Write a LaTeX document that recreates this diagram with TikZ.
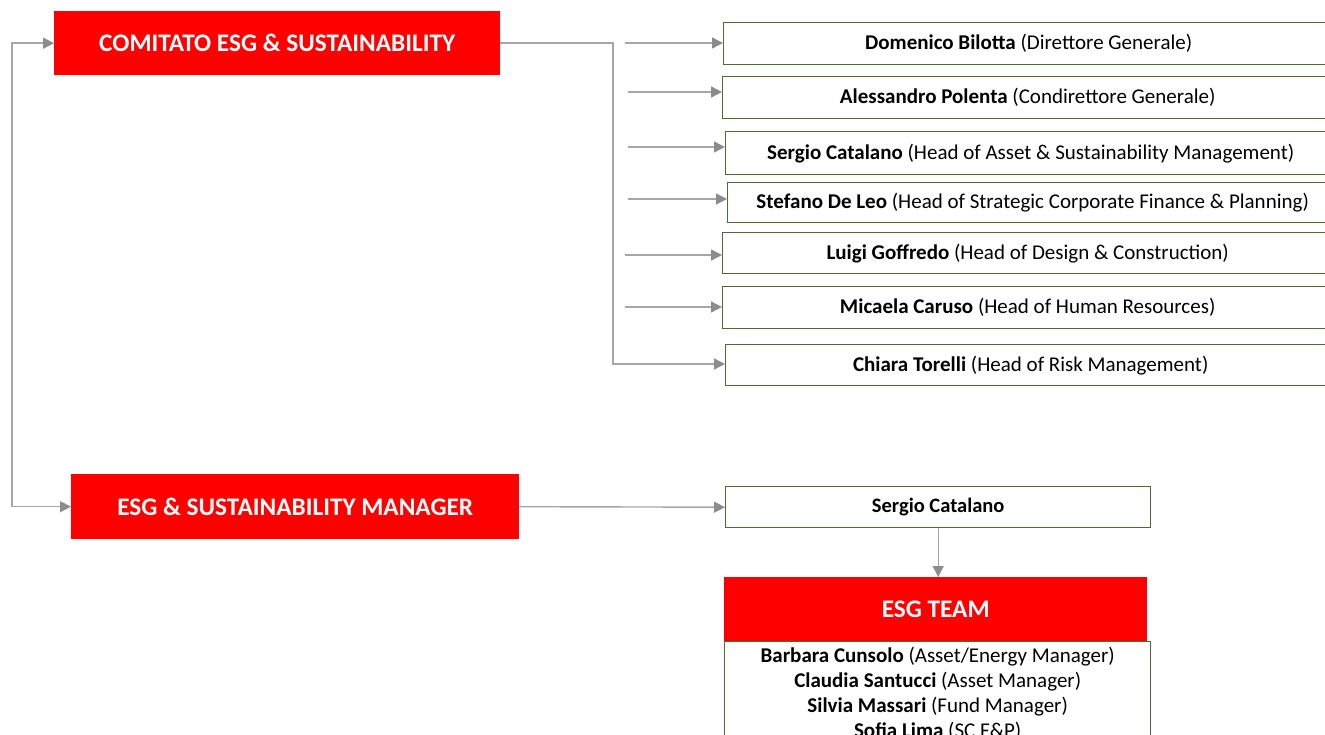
\documentclass[tikz,border=0pt]{standalone}
\usepackage{fontspec}
\setmainfont{Carlito}
\usetikzlibrary{arrows.meta}
\definecolor{esgred}{HTML}{FF0000}
\definecolor{boxgreen}{HTML}{4A6E2E}
\definecolor{linegray}{HTML}{A6A6A6}
\definecolor{tipgray}{HTML}{8C8C8C}
\begin{document}
\begin{tikzpicture}[x=1pt,y=-1pt,
  redbox/.style={fill=esgred, draw=none, text=white, font=\fontsize{25.3}{29}\selectfont\bfseries, anchor=north west, inner sep=0pt},
  namebox/.style={draw=boxgreen, line width=1.4pt, fill=white, anchor=north west, font=\fontsize{21}{25}\selectfont, inner sep=0pt, minimum height=42pt, minimum width=610pt},
  conn/.style={draw=linegray, line width=1.4pt, -{Triangle[length=11pt,width=11pt,color=tipgray]}},
  connboth/.style={draw=linegray, line width=1.4pt, {Triangle[length=11pt,width=11pt,color=tipgray]}-{Triangle[length=11pt,width=11pt,color=tipgray]}}
]
\useasboundingbox (0,0) rectangle (1325,735);
\begin{scope}
\clip (0,0) rectangle (1325,735);
% red boxes
\node[redbox, minimum width=446pt, minimum height=64pt] (com) at (54,11) {COMITATO ESG \& SUSTAINABILITY};
\node[redbox, minimum width=448pt, minimum height=65pt] (mgr) at (71,474) {ESG \& SUSTAINABILITY MANAGER};
% committee members
\node[namebox] (n1) at (723,22) {\textbf{Domenico Bilotta} (Direttore Generale)};
\node[namebox] (n2) at (722,76) {\textbf{Alessandro Polenta} (Condirettore Generale)};
\node[namebox, minimum height=43pt] (n3) at (725,131) {\textbf{Sergio Catalano} (Head of Asset \& Sustainability Management)};
\node[namebox, minimum height=40pt] (n4) at (727,182) {\textbf{Stefano De Leo} (Head of Strategic Corporate Finance \& Planning)};
\node[namebox, minimum height=41pt] (n5) at (722,232) {\textbf{Luigi Goffredo} (Head of Design \& Construction)};
\node[namebox] (n6) at (722,286) {\textbf{Micaela Caruso} (Head of Human Resources)};
\node[namebox, minimum height=41pt] (n7) at (725,344) {\textbf{Chiara Torelli} (Head of Risk Management)};
% arrow start points
\coordinate (s1) at (625,43);
\coordinate (s2) at (628,92);
\coordinate (s3) at (628,147);
\coordinate (s4) at (628,199);
\coordinate (s5) at (625,255);
\coordinate (s6) at (625,307);
\coordinate (j7) at (613,364);
\coordinate (lj) at (12,275);
\draw[conn] (s1) -- (s1 -| n1.west);
\draw[conn] (s2) -- (s2 -| n2.west);
\draw[conn] (s3) -- (s3 -| n3.west);
\draw[conn] (s4) -- (s4 -| n4.west);
\draw[conn] (s5) -- (s5 -| n5.west);
\draw[conn] (s6) -- (s6 -| n6.west);
\draw[conn] (com.east) -| (j7) -- (j7 -| n7.west);
\draw[connboth] (com.west) -| (lj) |- (mgr.west);
% manager branch
\node[namebox, minimum width=425pt, minimum height=41pt, font=\fontsize{20.5}{25}\selectfont\bfseries] (sc) at (725,486) {Sergio Catalano};
\draw[conn] (mgr.east) -- (sc.west);
\node[redbox, minimum width=423pt, minimum height=64pt] (team) at (724,577) {ESG TEAM};
\draw[conn] (sc.south) -- (sc.south |- team.north);
\node[namebox, minimum width=426pt, minimum height=0pt, inner ysep=5pt, align=center, font=\fontsize{21}{25}\selectfont] (list) at (724,641) {\textbf{Barbara Cunsolo} (Asset/Energy Manager)\\ \textbf{Claudia Santucci} (Asset Manager)\\ \textbf{Silvia Massari} (Fund Manager)\\ \textbf{Sofia Lima} (SC F\&P)};
\end{scope}
\end{tikzpicture}
\end{document}
